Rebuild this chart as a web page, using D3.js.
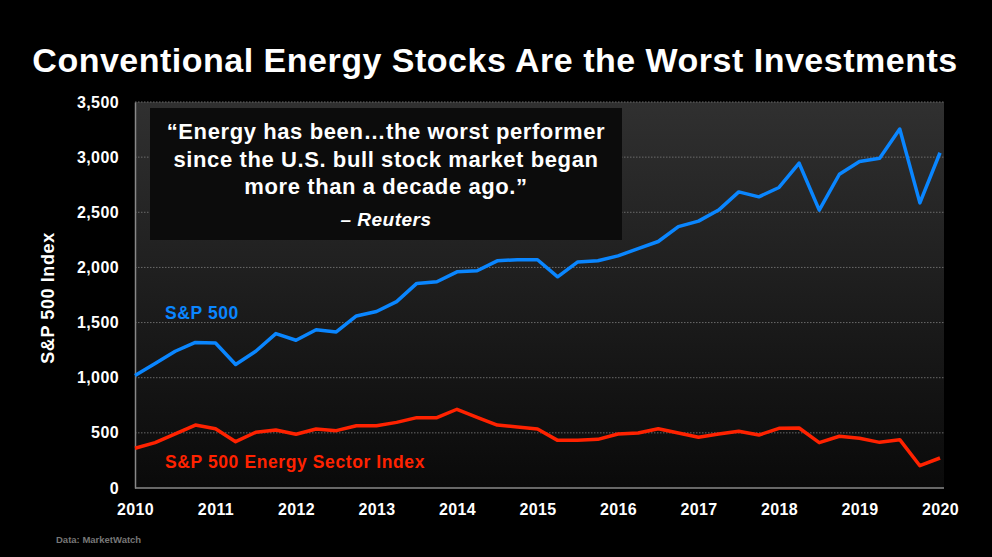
<!DOCTYPE html>
<html>
<head>
<meta charset="utf-8">
<script src="https://cdn.jsdelivr.net/npm/d3@7"></script>
<style>
  html, body { margin: 0; padding: 0; background: #000; }
  svg { display: block; font-family: Arial, "Liberation Sans", sans-serif; }
</style>
</head>
<body>
<svg id="chart" width="992" height="557"></svg>
<script>
// Quarterly readings, 2010 Q1 .. 2020 Q1
const quarters = d3.range(41).map(i => 2010 + i / 4);
const sp500 = [
  1020, 1130, 1240, 1320, 1315, 1120, 1240, 1400, 1340, 1435,
  1415, 1560, 1600, 1690, 1855, 1870, 1960, 1970, 2060, 2070,
  2070, 1915, 2050, 2060, 2105, 2170, 2235, 2370, 2420, 2520,
  2685, 2640, 2725, 2945, 2520, 2845, 2960, 2990, 3255, 2585,
  3040
];
const energy = [
  360, 411, 490, 571, 538, 420, 505, 526, 487, 535,
  520, 565, 565, 595, 638, 638, 714, 641, 571, 553,
  535, 432, 432, 441, 490, 499, 538, 499, 460, 490,
  514, 480, 541, 544, 411, 469, 451, 414, 438, 202,
  272
];
const yearTicks = d3.range(2010, 2021);
const valueTicks = d3.range(0, 3501, 500);

const svg = d3.select('#chart');
const W = 992, H = 557;
const margin = {left: 135, right: 52, top: 102, bottom: 69};
const plotW = W - margin.left - margin.right;
const plotH = H - margin.top - margin.bottom;

const x = d3.scaleLinear().domain([2010, 2020]).range([margin.left, margin.left + plotW]);
const y = d3.scaleLinear().domain([0, 3500]).range([margin.top + plotH, margin.top]);

svg.append('rect').attr('width', W).attr('height', H).attr('fill', '#000');

// plot background gradient
const defs = svg.append('defs');
const grad = defs.append('linearGradient').attr('id', 'bg')
  .attr('x1', 0).attr('y1', 0).attr('x2', 0).attr('y2', 1);
grad.append('stop').attr('offset', '0%').attr('stop-color', '#303030');
grad.append('stop').attr('offset', '100%').attr('stop-color', '#0a0a0a');

svg.append('rect')
  .attr('x', margin.left).attr('y', margin.top)
  .attr('width', plotW + 4).attr('height', plotH)
  .attr('fill', 'url(#bg)');

// title
svg.append('text')
  .attr('x', W / 2 - 1).attr('y', 72)
  .attr('text-anchor', 'middle')
  .attr('fill', '#fff')
  .attr('font-weight', 'bold')
  .attr('font-size', 34)
  .attr('letter-spacing', 0.5)
  .text('Conventional Energy Stocks Are the Worst Investments');

// grid
svg.append('g').selectAll('line')
  .data(valueTicks.filter(d => d > 0))
  .join('line')
    .attr('x1', margin.left).attr('x2', margin.left + plotW + 4)
    .attr('y1', d => y(d)).attr('y2', d => y(d))
    .attr('stroke', '#6a6a6a')
    .attr('stroke-width', 1)
    .attr('stroke-dasharray', '1.5,1.5');

// axes
const yAxis = svg.append('g')
  .attr('transform', `translate(${margin.left},0)`)
  .call(d3.axisLeft(y).tickValues(valueTicks).tickFormat(d3.format(',')).tickSize(0).tickPadding(16));
const xAxis = svg.append('g')
  .attr('transform', `translate(0,${margin.top + plotH})`)
  .call(d3.axisBottom(x).tickValues(yearTicks).tickFormat(d3.format('d')).tickSize(0).tickPadding(16));
[yAxis, xAxis].forEach(a => {
  a.select('.domain').attr('stroke', '#888').attr('stroke-width', 1.5);
  a.selectAll('text')
    .attr('fill', '#fff')
    .attr('font-size', 16)
    .attr('letter-spacing', 0.4)
    .attr('font-weight', 'bold')
    .attr('font-family', 'Arial, "Liberation Sans", sans-serif');
});
xAxis.select('.domain').attr('d', `M${margin.left},0H${margin.left + plotW + 4}`);

// y label
svg.append('text')
  .attr('transform', `translate(53.5,298) rotate(-90)`)
  .attr('text-anchor', 'middle')
  .attr('fill', '#fff')
  .attr('font-size', 18)
  .attr('letter-spacing', 0.6)
  .attr('font-weight', 'bold')
  .text('S&P 500 Index');

// lines
const line = d3.line()
  .x((d, i) => x(quarters[i]))
  .y(d => y(d));

svg.append('path').datum(energy)
  .attr('d', line)
  .attr('fill', 'none')
  .attr('stroke', '#ff2200')
  .attr('stroke-width', 3.5)
  .attr('stroke-linejoin', 'round');

svg.append('path').datum(sp500)
  .attr('d', line)
  .attr('fill', 'none')
  .attr('stroke', '#0a86ff')
  .attr('stroke-width', 3.5)
  .attr('stroke-linejoin', 'round');

// series labels
svg.append('text')
  .attr('x', 165).attr('y', 318.5)
  .attr('fill', '#0a86ff')
  .attr('font-size', 17.5)
  .attr('letter-spacing', 0.6)
  .attr('font-weight', 'bold')
  .text('S&P 500');
svg.append('text')
  .attr('x', 165).attr('y', 468)
  .attr('fill', '#ff2200')
  .attr('font-size', 17.5)
  .attr('letter-spacing', 0.6)
  .attr('font-weight', 'bold')
  .text('S&P 500 Energy Sector Index');

// quote box
svg.append('rect')
  .attr('x', 150).attr('y', 108)
  .attr('width', 472).attr('height', 132)
  .attr('fill', '#0c0c0c');

const quoteLines = [
  '\u201cEnergy has been\u2026the worst performer',
  'since the U.S. bull stock market began',
  'more than a decade ago.\u201d'
];
svg.append('g').selectAll('text')
  .data(quoteLines)
  .join('text')
    .attr('x', 386)
    .attr('y', (d, i) => 139 + i * 27.5)
    .attr('text-anchor', 'middle')
    .attr('fill', '#fff')
    .attr('font-size', 22)
    .attr('letter-spacing', 0.6)
    .attr('font-weight', 'bold')
    .text(d => d);
svg.append('text')
  .attr('x', 386).attr('y', 226)
  .attr('text-anchor', 'middle')
  .attr('fill', '#fff')
  .attr('font-size', 19)
  .attr('letter-spacing', 0.5)
  .attr('font-weight', 'bold')
  .attr('font-style', 'italic')
  .text('\u2013 Reuters');

// source
svg.append('text')
  .attr('x', 56).attr('y', 543)
  .attr('fill', '#777')
  .attr('font-size', 9.5)
  .attr('font-weight', 'bold')
  .text('Data: MarketWatch');
</script>
</body>
</html>
